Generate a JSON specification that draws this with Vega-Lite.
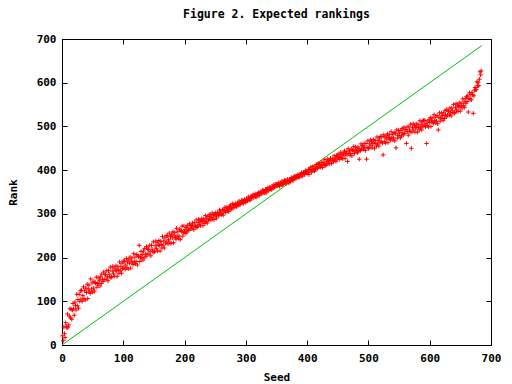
{
"$schema": "https://vega.github.io/schema/vega-lite/v6.json",
"width": 429, "height": 306,
"autosize": "none",
"padding": {"left": 62, "top": 39, "right": 21, "bottom": 39},
"background": "white",
"title": {"text": "Figure 2. Expected rankings", "font": "DejaVu Sans Mono", "fontWeight": "bold", "fontSize": 11.5, "color": "black", "anchor": "middle", "frame": "group", "offset": 13},
"config": {
  "view": {"stroke": "black", "strokeWidth": 1},
  "axis": {"grid": false, "domainColor": "black", "tickColor": "black", "tickSize": -5, "labelFont": "DejaVu Sans Mono", "labelFontWeight": "bold", "labelFontSize": 11, "labelColor": "black", "titleFont": "DejaVu Sans Mono", "titleFontWeight": "bold", "titleFontSize": 11, "titleColor": "black", "labelFlush": false, "labelOverlap": false}
},
"datasets": {
"diag": [{"s":0,"r":0},{"s":685,"r":685}],
"pts": [
{"s":1,"r":21},{"s":2,"r":10},{"s":3,"r":41},{"s":4,"r":26},{"s":5,"r":17},{"s":6,"r":51},{"s":7,"r":43},{"s":8,"r":39},{"s":9,"r":71},{"s":10,"r":41},
{"s":11,"r":46},{"s":12,"r":66},{"s":13,"r":83},{"s":14,"r":62},{"s":15,"r":82},{"s":16,"r":59},{"s":17,"r":80},{"s":18,"r":95},{"s":19,"r":83},{"s":20,"r":68},
{"s":21,"r":98},{"s":22,"r":90},{"s":23,"r":80},{"s":24,"r":116},{"s":25,"r":90},{"s":26,"r":104},{"s":27,"r":84},{"s":28,"r":116},{"s":29,"r":100},{"s":30,"r":124},
{"s":31,"r":105},{"s":32,"r":125},{"s":33,"r":100},{"s":34,"r":113},{"s":35,"r":133},{"s":36,"r":106},{"s":37,"r":124},{"s":38,"r":103},{"s":39,"r":130},{"s":40,"r":120},
{"s":41,"r":139},{"s":42,"r":106},{"s":43,"r":128},{"s":44,"r":137},{"s":45,"r":122},{"s":46,"r":118},{"s":47,"r":151},{"s":48,"r":128},{"s":49,"r":142},{"s":50,"r":121},
{"s":51,"r":130},{"s":52,"r":146},{"s":53,"r":123},{"s":54,"r":143},{"s":55,"r":141},{"s":56,"r":155},{"s":57,"r":132},{"s":58,"r":140},{"s":59,"r":154},{"s":60,"r":141},
{"s":61,"r":148},{"s":62,"r":135},{"s":63,"r":156},{"s":64,"r":141},{"s":65,"r":162},{"s":66,"r":150},{"s":67,"r":145},{"s":68,"r":167},{"s":69,"r":150},{"s":70,"r":161},
{"s":71,"r":161},{"s":72,"r":150},{"s":73,"r":170},{"s":74,"r":156},{"s":75,"r":147},{"s":76,"r":170},{"s":77,"r":162},{"s":78,"r":156},{"s":79,"r":178},{"s":80,"r":154},
{"s":81,"r":156},{"s":82,"r":169},{"s":83,"r":180},{"s":84,"r":163},{"s":85,"r":176},{"s":86,"r":157},{"s":87,"r":171},{"s":88,"r":181},{"s":89,"r":170},{"s":90,"r":157},
{"s":91,"r":179},{"s":92,"r":172},{"s":93,"r":164},{"s":94,"r":190},{"s":95,"r":170},{"s":96,"r":180},{"s":97,"r":164},{"s":98,"r":187},{"s":99,"r":175},{"s":100,"r":192},
{"s":101,"r":178},{"s":102,"r":192},{"s":103,"r":173},{"s":104,"r":183},{"s":105,"r":198},{"s":106,"r":177},{"s":107,"r":190},{"s":108,"r":174},{"s":109,"r":195},{"s":110,"r":187},
{"s":111,"r":201},{"s":112,"r":176},{"s":113,"r":192},{"s":114,"r":199},{"s":115,"r":188},{"s":116,"r":184},{"s":117,"r":209},{"s":118,"r":191},{"s":119,"r":201},{"s":120,"r":186},
{"s":121,"r":191},{"s":122,"r":207},{"s":123,"r":183},{"s":124,"r":204},{"s":125,"r":202},{"s":126,"r":228},{"s":127,"r":191},{"s":128,"r":200},{"s":129,"r":214},{"s":130,"r":200},
{"s":131,"r":207},{"s":132,"r":194},{"s":133,"r":215},{"s":134,"r":199},{"s":135,"r":221},{"s":136,"r":208},{"s":137,"r":203},{"s":138,"r":225},{"s":139,"r":208},{"s":140,"r":219},
{"s":141,"r":219},{"s":142,"r":208},{"s":143,"r":228},{"s":144,"r":214},{"s":145,"r":204},{"s":146,"r":228},{"s":147,"r":219},{"s":148,"r":214},{"s":149,"r":236},{"s":150,"r":212},
{"s":151,"r":214},{"s":152,"r":227},{"s":153,"r":238},{"s":154,"r":221},{"s":155,"r":234},{"s":156,"r":215},{"s":157,"r":229},{"s":158,"r":239},{"s":159,"r":228},{"s":160,"r":215},
{"s":161,"r":237},{"s":162,"r":230},{"s":163,"r":222},{"s":164,"r":248},{"s":165,"r":228},{"s":166,"r":238},{"s":167,"r":222},{"s":168,"r":245},{"s":169,"r":233},{"s":170,"r":250},
{"s":171,"r":236},{"s":172,"r":250},{"s":173,"r":231},{"s":174,"r":241},{"s":175,"r":256},{"s":176,"r":235},{"s":177,"r":248},{"s":178,"r":232},{"s":179,"r":253},{"s":180,"r":245},
{"s":181,"r":259},{"s":182,"r":234},{"s":183,"r":250},{"s":184,"r":257},{"s":185,"r":246},{"s":186,"r":242},{"s":187,"r":267},{"s":188,"r":249},{"s":189,"r":259},{"s":190,"r":244},
{"s":191,"r":249},{"s":192,"r":265},{"s":193,"r":241},{"s":194,"r":262},{"s":195,"r":260},{"s":196,"r":272},{"s":197,"r":249},{"s":198,"r":257},{"s":199,"r":272},{"s":200,"r":258},
{"s":201,"r":264},{"s":202,"r":255},{"s":203,"r":269},{"s":204,"r":259},{"s":205,"r":274},{"s":206,"r":265},{"s":207,"r":262},{"s":208,"r":277},{"s":209,"r":266},{"s":210,"r":273},
{"s":211,"r":273},{"s":212,"r":266},{"s":213,"r":279},{"s":214,"r":270},{"s":215,"r":264},{"s":216,"r":280},{"s":217,"r":274},{"s":218,"r":271},{"s":219,"r":286},{"s":220,"r":269},
{"s":221,"r":271},{"s":222,"r":280},{"s":223,"r":288},{"s":224,"r":276},{"s":225,"r":285},{"s":226,"r":273},{"s":227,"r":282},{"s":228,"r":289},{"s":229,"r":282},{"s":230,"r":273},
{"s":231,"r":288},{"s":232,"r":284},{"s":233,"r":278},{"s":234,"r":296},{"s":235,"r":282},{"s":236,"r":289},{"s":237,"r":279},{"s":238,"r":294},{"s":239,"r":286},{"s":240,"r":298},
{"s":241,"r":288},{"s":242,"r":298},{"s":243,"r":286},{"s":244,"r":292},{"s":245,"r":302},{"s":246,"r":288},{"s":247,"r":297},{"s":248,"r":287},{"s":249,"r":300},{"s":250,"r":295},
{"s":251,"r":303},{"s":252,"r":290},{"s":253,"r":299},{"s":254,"r":303},{"s":255,"r":297},{"s":256,"r":296},{"s":257,"r":309},{"s":258,"r":300},{"s":259,"r":306},{"s":260,"r":298},
{"s":261,"r":301},{"s":262,"r":309},{"s":263,"r":297},{"s":264,"r":309},{"s":265,"r":308},{"s":266,"r":315},{"s":267,"r":303},{"s":268,"r":307},{"s":269,"r":315},{"s":270,"r":308},
{"s":271,"r":312},{"s":272,"r":305},{"s":273,"r":317},{"s":274,"r":309},{"s":275,"r":320},{"s":276,"r":314},{"s":277,"r":311},{"s":278,"r":323},{"s":279,"r":314},{"s":280,"r":321},
{"s":281,"r":320},{"s":282,"r":316},{"s":283,"r":323},{"s":284,"r":319},{"s":285,"r":316},{"s":286,"r":325},{"s":287,"r":322},{"s":288,"r":321},{"s":289,"r":329},{"s":290,"r":321},
{"s":291,"r":322},{"s":292,"r":327},{"s":293,"r":331},{"s":294,"r":325},{"s":295,"r":330},{"s":296,"r":324},{"s":297,"r":330},{"s":298,"r":333},{"s":299,"r":330},{"s":300,"r":326},
{"s":301,"r":334},{"s":302,"r":332},{"s":303,"r":330},{"s":304,"r":339},{"s":305,"r":332},{"s":306,"r":336},{"s":307,"r":331},{"s":308,"r":339},{"s":309,"r":336},{"s":310,"r":342},
{"s":311,"r":338},{"s":312,"r":343},{"s":313,"r":337},{"s":314,"r":341},{"s":315,"r":346},{"s":316,"r":339},{"s":317,"r":344},{"s":318,"r":339},{"s":319,"r":346},{"s":320,"r":344},
{"s":321,"r":349},{"s":322,"r":342},{"s":323,"r":347},{"s":324,"r":350},{"s":325,"r":347},{"s":326,"r":346},{"s":327,"r":354},{"s":328,"r":349},{"s":329,"r":353},{"s":330,"r":348},
{"s":331,"r":350},{"s":332,"r":356},{"s":333,"r":348},{"s":334,"r":356},{"s":335,"r":355},{"s":336,"r":360},{"s":337,"r":353},{"s":338,"r":356},{"s":339,"r":361},{"s":340,"r":357},
{"s":341,"r":359},{"s":342,"r":356},{"s":343,"r":363},{"s":344,"r":358},{"s":345,"r":366},{"s":346,"r":362},{"s":347,"r":361},{"s":348,"r":368},{"s":349,"r":363},{"s":350,"r":367},
{"s":351,"r":367},{"s":352,"r":364},{"s":353,"r":371},{"s":354,"r":366},{"s":355,"r":363},{"s":356,"r":371},{"s":357,"r":369},{"s":358,"r":368},{"s":359,"r":375},{"s":360,"r":367},
{"s":361,"r":368},{"s":362,"r":373},{"s":363,"r":377},{"s":364,"r":371},{"s":365,"r":376},{"s":366,"r":370},{"s":367,"r":375},{"s":368,"r":379},{"s":369,"r":375},{"s":370,"r":371},
{"s":371,"r":379},{"s":372,"r":377},{"s":373,"r":374},{"s":374,"r":383},{"s":375,"r":377},{"s":376,"r":381},{"s":377,"r":376},{"s":378,"r":384},{"s":379,"r":380},{"s":380,"r":386},
{"s":381,"r":382},{"s":382,"r":387},{"s":383,"r":382},{"s":384,"r":385},{"s":385,"r":390},{"s":386,"r":384},{"s":387,"r":389},{"s":388,"r":384},{"s":389,"r":391},{"s":390,"r":389},
{"s":391,"r":394},{"s":392,"r":386},{"s":393,"r":392},{"s":394,"r":395},{"s":395,"r":391},{"s":396,"r":390},{"s":397,"r":399},{"s":398,"r":394},{"s":399,"r":397},{"s":400,"r":393},
{"s":401,"r":394},{"s":402,"r":402},{"s":403,"r":390},{"s":404,"r":401},{"s":405,"r":400},{"s":406,"r":407},{"s":407,"r":395},{"s":408,"r":400},{"s":409,"r":408},{"s":410,"r":400},
{"s":411,"r":404},{"s":412,"r":398},{"s":413,"r":409},{"s":414,"r":401},{"s":415,"r":413},{"s":416,"r":406},{"s":417,"r":404},{"s":418,"r":415},{"s":419,"r":407},{"s":420,"r":413},
{"s":421,"r":413},{"s":422,"r":407},{"s":423,"r":418},{"s":424,"r":411},{"s":425,"r":406},{"s":426,"r":418},{"s":427,"r":414},{"s":428,"r":412},{"s":429,"r":424},{"s":430,"r":411},
{"s":431,"r":412},{"s":432,"r":419},{"s":433,"r":425},{"s":434,"r":416},{"s":435,"r":423},{"s":436,"r":414},{"s":437,"r":422},{"s":438,"r":427},{"s":439,"r":421},{"s":440,"r":415},
{"s":441,"r":426},{"s":442,"r":423},{"s":443,"r":419},{"s":444,"r":433},{"s":445,"r":423},{"s":446,"r":428},{"s":447,"r":420},{"s":448,"r":433},{"s":449,"r":426},{"s":450,"r":435},
{"s":451,"r":428},{"s":452,"r":437},{"s":453,"r":425},{"s":454,"r":431},{"s":455,"r":441},{"s":456,"r":428},{"s":457,"r":436},{"s":458,"r":426},{"s":459,"r":439},{"s":460,"r":434},
{"s":461,"r":444},{"s":462,"r":427},{"s":463,"r":438},{"s":464,"r":442},{"s":465,"r":435},{"s":466,"r":420},{"s":467,"r":449},{"s":468,"r":438},{"s":469,"r":444},{"s":470,"r":434},
{"s":471,"r":438},{"s":472,"r":448},{"s":473,"r":433},{"s":474,"r":446},{"s":475,"r":445},{"s":476,"r":454},{"s":477,"r":438},{"s":478,"r":444},{"s":479,"r":453},{"s":480,"r":444},
{"s":481,"r":448},{"s":482,"r":440},{"s":483,"r":453},{"s":484,"r":443},{"s":485,"r":425},{"s":486,"r":449},{"s":487,"r":445},{"s":488,"r":460},{"s":489,"r":448},{"s":490,"r":456},
{"s":491,"r":455},{"s":492,"r":448},{"s":493,"r":461},{"s":494,"r":452},{"s":495,"r":445},{"s":496,"r":461},{"s":497,"r":425},{"s":498,"r":452},{"s":499,"r":467},{"s":500,"r":450},
{"s":501,"r":450},{"s":502,"r":460},{"s":503,"r":469},{"s":504,"r":456},{"s":505,"r":466},{"s":506,"r":451},{"s":507,"r":462},{"s":508,"r":470},{"s":509,"r":461},{"s":510,"r":450},
{"s":511,"r":468},{"s":512,"r":462},{"s":513,"r":455},{"s":514,"r":476},{"s":515,"r":460},{"s":516,"r":468},{"s":517,"r":455},{"s":518,"r":474},{"s":519,"r":463},{"s":520,"r":477},
{"s":521,"r":466},{"s":522,"r":477},{"s":523,"r":462},{"s":524,"r":435},{"s":525,"r":481},{"s":526,"r":465},{"s":527,"r":475},{"s":528,"r":462},{"s":529,"r":478},{"s":530,"r":471},
{"s":531,"r":483},{"s":532,"r":463},{"s":533,"r":475},{"s":534,"r":481},{"s":535,"r":472},{"s":536,"r":469},{"s":537,"r":488},{"s":538,"r":474},{"s":539,"r":482},{"s":540,"r":469},
{"s":541,"r":474},{"s":542,"r":486},{"s":543,"r":467},{"s":544,"r":484},{"s":545,"r":451},{"s":546,"r":492},{"s":547,"r":473},{"s":548,"r":480},{"s":549,"r":491},{"s":550,"r":479},
{"s":551,"r":485},{"s":552,"r":474},{"s":553,"r":491},{"s":554,"r":478},{"s":555,"r":495},{"s":556,"r":485},{"s":557,"r":481},{"s":558,"r":498},{"s":559,"r":484},{"s":560,"r":493},
{"s":561,"r":492},{"s":562,"r":461},{"s":563,"r":499},{"s":564,"r":488},{"s":565,"r":480},{"s":566,"r":499},{"s":567,"r":492},{"s":568,"r":488},{"s":569,"r":505},{"s":570,"r":450},
{"s":571,"r":487},{"s":572,"r":497},{"s":573,"r":506},{"s":574,"r":492},{"s":575,"r":502},{"s":576,"r":487},{"s":577,"r":498},{"s":578,"r":506},{"s":579,"r":497},{"s":580,"r":487},
{"s":581,"r":504},{"s":582,"r":499},{"s":583,"r":492},{"s":584,"r":513},{"s":585,"r":497},{"s":586,"r":505},{"s":587,"r":492},{"s":588,"r":511},{"s":589,"r":500},{"s":590,"r":514},
{"s":591,"r":503},{"s":592,"r":514},{"s":593,"r":499},{"s":594,"r":507},{"s":595,"r":461},{"s":596,"r":502},{"s":597,"r":512},{"s":598,"r":499},{"s":599,"r":515},{"s":600,"r":509},
{"s":601,"r":520},{"s":602,"r":500},{"s":603,"r":513},{"s":604,"r":519},{"s":605,"r":510},{"s":606,"r":507},{"s":607,"r":527},{"s":608,"r":513},{"s":609,"r":521},{"s":610,"r":508},
{"s":611,"r":512},{"s":612,"r":525},{"s":613,"r":506},{"s":614,"r":492},{"s":615,"r":521},{"s":616,"r":531},{"s":617,"r":512},{"s":618,"r":519},{"s":619,"r":531},{"s":620,"r":519},
{"s":621,"r":525},{"s":622,"r":514},{"s":623,"r":531},{"s":624,"r":518},{"s":625,"r":536},{"s":626,"r":526},{"s":627,"r":522},{"s":628,"r":539},{"s":629,"r":526},{"s":630,"r":535},
{"s":631,"r":535},{"s":632,"r":526},{"s":633,"r":542},{"s":634,"r":531},{"s":635,"r":524},{"s":636,"r":542},{"s":637,"r":536},{"s":638,"r":532},{"s":639,"r":550},{"s":640,"r":530},
{"s":641,"r":532},{"s":642,"r":543},{"s":643,"r":552},{"s":644,"r":538},{"s":645,"r":549},{"s":646,"r":534},{"s":647,"r":546},{"s":648,"r":554},{"s":649,"r":545},{"s":650,"r":535},
{"s":651,"r":553},{"s":652,"r":548},{"s":653,"r":542},{"s":654,"r":563},{"s":655,"r":548},{"s":656,"r":556},{"s":657,"r":544},{"s":658,"r":563},{"s":659,"r":553},{"s":660,"r":568},
{"s":661,"r":557},{"s":662,"r":570},{"s":663,"r":533},{"s":664,"r":564},{"s":665,"r":577},{"s":666,"r":562},{"s":667,"r":573},{"s":668,"r":561},{"s":669,"r":578},{"s":670,"r":573},
{"s":671,"r":530},{"s":672,"r":570},{"s":673,"r":583},{"s":674,"r":589},{"s":675,"r":584},{"s":676,"r":584},{"s":677,"r":602},{"s":678,"r":593},{"s":679,"r":601},{"s":680,"r":593},
{"s":681,"r":608},{"s":682,"r":625},{"s":683,"r":618},{"s":684,"r":627}
]
},
"layer": [
  {
    "data": {"name": "diag"},
    "mark": {"type": "line", "color": "#00c000", "strokeWidth": 1},
    "encoding": {
      "x": {"field": "s", "type": "quantitative", "scale": {"domain": [0, 700], "nice": false}, "axis": {"orient": "bottom", "title": "Seed", "values": [0,100,200,300,400,500,600,700], "labelPadding": 12, "titlePadding": 8}},
      "y": {"field": "r", "type": "quantitative", "scale": {"domain": [0, 700], "nice": false}, "axis": {"orient": "left", "title": "Rank", "values": [0,100,200,300,400,500,600,700], "labelPadding": 11, "titlePadding": 18}}
    }
  },
  {
    "data": {"name": "pts"},
    "mark": {"type": "point", "shape": "M-1,0H1M0,-1V1", "filled": false, "color": "#ff0000", "size": 20, "strokeWidth": 1, "opacity": 1},
    "encoding": {
      "x": {"field": "s", "type": "quantitative", "axis": {"orient": "top", "title": null, "labels": false, "domain": false, "values": [0,100,200,300,400,500,600,700]}},
      "y": {"field": "r", "type": "quantitative", "axis": {"orient": "right", "title": null, "labels": false, "domain": false, "values": [0,100,200,300,400,500,600,700]}}
    }
  }
],
"resolve": {"axis": {"x": "independent", "y": "independent"}}
}
